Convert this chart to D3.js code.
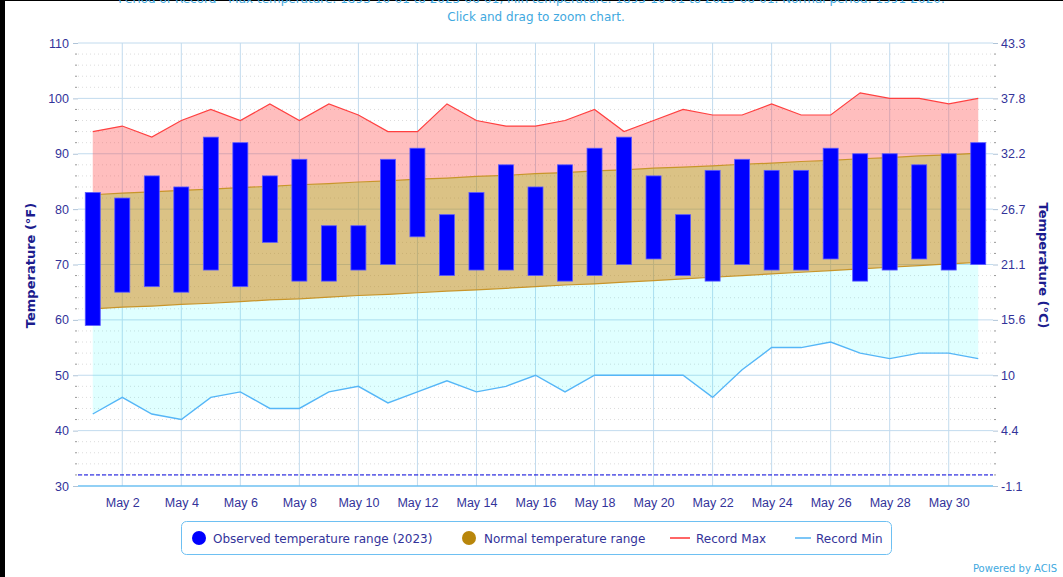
<!DOCTYPE html>
<html>
<head>
<meta charset="utf-8">
<script src="https://cdn.jsdelivr.net/npm/d3@7"></script>
<style>
  body { margin: 0; background: #fff; }
  svg { display: block; font-family: "DejaVu Sans", Verdana, sans-serif; }
</style>
</head>
<body>
<div id="chart"></div>
<script>
// data (May 2023)
const days = [1,2,3,4,5,6,7,8,9,10,11,12,13,14,15,16,17,18,19,20,21,22,23,24,25,26,27,28,29,30,31];
const obsHigh = [83,82,86,84,93,92,86,89,77,77,89,91,79,83,88,84,88,91,93,86,79,87,89,87,87,91,90,90,88,90,92];
const obsLow  = [59,65,66,65,69,66,74,67,67,69,70,75,68,69,69,68,67,68,70,71,68,67,70,69,69,71,67,69,71,69,70];
const normalHigh = [82.6,82.9,83.1,83.4,83.6,83.9,84.1,84.4,84.6,84.9,85.1,85.4,85.6,85.9,86.1,86.4,86.6,86.9,87.1,87.4,87.6,87.8,88.1,88.3,88.6,88.8,89.1,89.3,89.6,89.8,90.1];
const normalLow  = [62.0,62.3,62.5,62.8,63.0,63.3,63.6,63.8,64.1,64.4,64.6,64.9,65.2,65.4,65.7,66.0,66.3,66.5,66.8,67.1,67.4,67.7,68.0,68.3,68.6,68.9,69.2,69.5,69.8,70.1,70.4];
const recordMax = [94,95,93,96,98,96,99,96,99,97,94,94,99,96,95,95,96,98,94,96,98,97,97,99,97,97,101,100,100,99,100];
const recordMin = [43,46,43,42,46,47,44,44,47,48,45,47,49,47,48,50,47,50,50,50,50,46,51,55,55,56,54,53,54,54,53];
const fTicks = [30,40,50,60,70,80,90,100,110];
const cTickLabels = ["-1.1","4.4","10","15.6","21.1","26.7","32.2","37.8","43.3"];
const dayTicks = [2,4,6,8,10,12,14,16,18,20,22,24,26,28,30];
const freezing = 32;

const W = 1063, H = 577;
const margin = {top: 43, right: 70, bottom: 91, left: 78};
const plotW = W - margin.left - margin.right,
      plotH = H - margin.top - margin.bottom;

const navy = "#33339a";

const svg = d3.select("#chart").append("svg")
    .attr("width", W)
    .attr("height", H);

// frame edges seen in the screenshot
svg.append("rect").attr("x", 0).attr("y", 0).attr("width", 5).attr("height", H).attr("fill", "#000");
svg.append("rect").attr("x", 0).attr("y", 0).attr("width", W).attr("height", 1).attr("fill", "#000");

// titles (first line is clipped by the top edge, as in the original)
svg.append("text")
    .attr("x", W / 2).attr("y", 3)
    .attr("text-anchor", "middle")
    .attr("fill", "#3fa9e0")
    .style("font-size", "12px")
    .text("Period of Record - Max temperature: 1893-10-01 to 2023-06-01, Min temperature: 1893-10-01 to 2023-06-01. Normal period: 1991-2020.");
svg.append("text")
    .attr("x", 536).attr("y", 21)
    .attr("text-anchor", "middle")
    .attr("fill", "#3fa9e0")
    .style("font-size", "12px")
    .text("Click and drag to zoom chart.");

const g = svg.append("g")
    .attr("transform", `translate(${margin.left},${margin.top})`);

const x = d3.scaleLinear().domain([0.5, 31.5]).range([0, plotW]);
const y = d3.scaleLinear().domain([30, 110]).range([plotH, 0]);

// minor grid (every 2°F)
const minor = d3.range(32, 110, 2).filter(v => v % 10 !== 0);
g.append("g").selectAll("line").data(minor).join("line")
    .attr("x1", 0).attr("x2", plotW)
    .attr("y1", d => y(d)).attr("y2", d => y(d))
    .attr("stroke", "#dcdcdc").attr("stroke-dasharray", "1,3");

// major grid
g.append("g").selectAll("line").data(fTicks.slice(1)).join("line")
    .attr("x1", 0).attr("x2", plotW)
    .attr("y1", d => y(d)).attr("y2", d => y(d))
    .attr("stroke", "#c2dbee");

g.append("g").selectAll("line").data(dayTicks).join("line")
    .attr("x1", d => x(d)).attr("x2", d => x(d))
    .attr("y1", 0).attr("y2", plotH)
    .attr("stroke", "#c2dbee");

// area bands
const idx = d3.range(days.length);
const band = (top, bottom) => d3.area()
    .x(i => x(days[i]))
    .y0(i => y(bottom[i]))
    .y1(i => y(top[i]));

g.append("path").datum(idx)
    .attr("d", band(recordMax, normalHigh))
    .attr("fill", "#ff4444").attr("fill-opacity", 0.35);

g.append("path").datum(idx)
    .attr("d", band(normalLow, recordMin))
    .attr("fill", "#00ffff").attr("fill-opacity", 0.12);

g.append("path").datum(idx)
    .attr("d", band(normalHigh, normalLow))
    .attr("fill", "#b8860b").attr("fill-opacity", 0.5);

const line = vals => d3.line().x(i => x(days[i])).y(i => y(vals[i]));

g.append("path").datum(idx).attr("d", line(normalHigh))
    .attr("fill", "none").attr("stroke", "#c8952a").attr("stroke-width", 1.2);
g.append("path").datum(idx).attr("d", line(normalLow))
    .attr("fill", "none").attr("stroke", "#c8952a").attr("stroke-width", 1.2);
g.append("path").datum(idx).attr("d", line(recordMax))
    .attr("fill", "none").attr("stroke", "#ff4040").attr("stroke-width", 1.2);
g.append("path").datum(idx).attr("d", line(recordMin))
    .attr("fill", "none").attr("stroke", "#55b6f7").attr("stroke-width", 1.4);

// observed range bars
const barW = 15;
g.append("g").selectAll("rect").data(idx).join("rect")
    .attr("x", i => x(days[i]) - barW / 2)
    .attr("y", i => y(obsHigh[i]))
    .attr("width", barW)
    .attr("height", i => y(obsLow[i]) - y(obsHigh[i]))
    .attr("fill", "#0000ff")
    .attr("stroke", "#5a5aff").attr("stroke-width", 0.8);

// freezing line
g.append("line")
    .attr("x1", 0).attr("x2", plotW)
    .attr("y1", y(freezing)).attr("y2", y(freezing))
    .attr("stroke", "#0000dd").attr("stroke-dasharray", "4,2");

// bottom axis line
g.append("line")
    .attr("x1", 0).attr("x2", plotW)
    .attr("y1", plotH).attr("y2", plotH)
    .attr("stroke", "#6ec0f2").attr("stroke-width", 1.5);

// left axis
const yAxis = d3.axisLeft(y).tickValues(fTicks).tickSize(5).tickPadding(4);
const ga = g.append("g").attr("class", "axis y-axis").call(yAxis);
ga.select(".domain").remove();
ga.selectAll(".tick line").attr("stroke", "#b0c4d8");
ga.selectAll("text").attr("fill", navy).style("font-size", "12.5px");
g.append("g").selectAll("line").data(minor).join("line")
    .attr("x1", -3).attr("x2", -1)
    .attr("y1", d => y(d)).attr("y2", d => y(d))
    .attr("stroke", "#999");

// right axis, Celsius labels on Fahrenheit positions
const yAxisR = d3.axisRight(y).tickValues(fTicks)
    .tickFormat((d, i) => cTickLabels[i])
    .tickSize(5).tickPadding(3);
const gr = g.append("g").attr("class", "axis y-axis-r")
    .attr("transform", `translate(${plotW},0)`).call(yAxisR);
gr.select(".domain").remove();
gr.selectAll(".tick line").attr("stroke", "#b0c4d8");
gr.selectAll("text").attr("fill", navy).style("font-size", "12.5px");
g.append("g").selectAll("line").data(minor).join("line")
    .attr("x1", plotW + 1).attr("x2", plotW + 3)
    .attr("y1", d => y(d)).attr("y2", d => y(d))
    .attr("stroke", "#999");

// x axis
const xAxis = d3.axisBottom(x).tickValues(dayTicks)
    .tickFormat(d => "May " + d).tickSize(0).tickPadding(12);
const gx = g.append("g").attr("class", "axis x-axis")
    .attr("transform", `translate(0,${plotH})`).call(xAxis);
gx.select(".domain").remove();
gx.selectAll("text").attr("fill", navy).style("font-size", "12.5px");

// axis titles
svg.append("text")
    .attr("transform", `translate(35,${margin.top + plotH / 2 + 1}) rotate(-90)`)
    .attr("text-anchor", "middle")
    .attr("fill", "#1c1c8e").style("font-size", "13px").style("font-weight", "bold")
    .text("Temperature (°F)");
svg.append("text")
    .attr("transform", `translate(1039,${margin.top + plotH / 2 + 1}) rotate(90)`)
    .attr("text-anchor", "middle")
    .attr("fill", "#1c1c8e").style("font-size", "13px").style("font-weight", "bold")
    .text("Temperature (°C)");

// legend
const lg = svg.append("g");
lg.append("rect")
    .attr("x", 181.5).attr("y", 521.5).attr("width", 710).attr("height", 33)
    .attr("rx", 5)
    .attr("fill", "#fff").attr("stroke", "#6ec0f2");
const legendY = 538;
lg.append("circle").attr("cx", 199).attr("cy", legendY).attr("r", 7).attr("fill", "#0000ff");
lg.append("text").attr("x", 213).attr("y", legendY + 4.5).attr("fill", navy).style("font-size", "12px")
    .text("Observed temperature range (2023)");
lg.append("circle").attr("cx", 469).attr("cy", legendY).attr("r", 7).attr("fill", "#b8860b");
lg.append("text").attr("x", 484).attr("y", legendY + 4.5).attr("fill", navy).style("font-size", "12px")
    .text("Normal temperature range");
lg.append("line").attr("x1", 670).attr("x2", 690).attr("y1", legendY).attr("y2", legendY)
    .attr("stroke", "#ff6666").attr("stroke-width", 2);
lg.append("text").attr("x", 696).attr("y", legendY + 4.5).attr("fill", navy).style("font-size", "12px")
    .text("Record Max");
lg.append("line").attr("x1", 795).attr("x2", 811).attr("y1", legendY).attr("y2", legendY)
    .attr("stroke", "#7cc6f7").attr("stroke-width", 2);
lg.append("text").attr("x", 816).attr("y", legendY + 4.5).attr("fill", navy).style("font-size", "12px")
    .text("Record Min");

svg.append("text")
    .attr("x", 1057).attr("y", 572)
    .attr("text-anchor", "end")
    .attr("fill", "#3fa9e0").style("font-size", "10px")
    .text("Powered by ACIS");
</script>
</body>
</html>
